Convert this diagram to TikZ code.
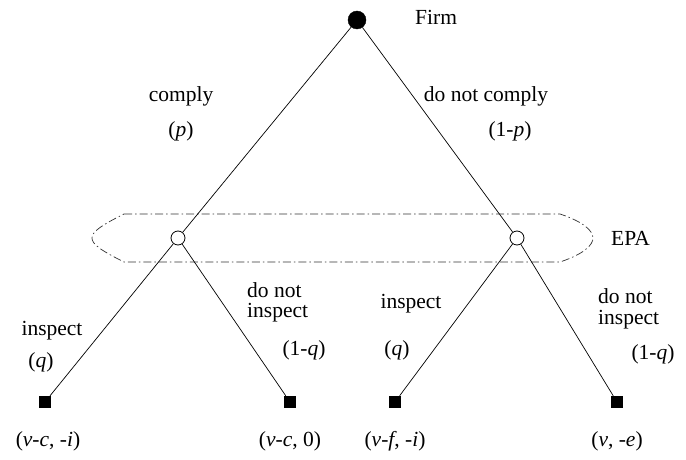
\documentclass[tikz,border=0pt]{standalone}
\usepackage{fontspec}
\setmainfont{Liberation Serif}
\begin{document}
\begin{tikzpicture}[x=1pt,y=-1pt,
  decision/.style={circle,fill=black,draw=black,minimum size=18pt,inner sep=0pt},
  chance/.style={circle,draw=black,fill=white,minimum size=14pt,inner sep=0pt,line width=0.8pt},
  leaf/.style={rectangle,fill=black,minimum size=12pt,inner sep=0pt},
  lbl/.style={font=\fontsize{21.5}{24}\selectfont,inner sep=0pt},
  edge/.style={draw=black,line width=0.7pt},
  infoset/.style={draw=black!80,line width=0.7pt,dash pattern=on 8pt off 3pt on 1.5pt off 3pt}]
\useasboundingbox (0,0) rectangle (686,460);
% information set
\draw[infoset] (124,214) -- (560,214) .. controls (584,222) and (593,231) .. (593,238)
  .. controls (593,245) and (584,254) .. (560,262) -- (124,262)
  .. controls (100,250) and (92,244) .. (92,238) .. controls (92,232) and (100,226) .. (124,214);
% nodes
\node[decision] (root) at (357,20) {};
\node[chance] (L) at (178,238) {};
\node[chance] (R) at (517,238) {};
\node[leaf] (t1) at (45,402) {};
\node[leaf] (t2) at (290,402) {};
\node[leaf] (t3) at (395,402) {};
\node[leaf] (t4) at (617,402) {};
% edges
\path[edge] (root) -- (L);
\path[edge] (root) -- (R);
\path[edge] (L) -- (t1);
\path[edge] (L) -- (t2);
\path[edge] (R) -- (t3);
\path[edge] (R) -- (t4);
% labels
\node[lbl,anchor=west] (firm) at (415,17) {Firm};
\node[lbl,anchor=west] (epa) at (611,238) {EPA};
\node[lbl] (c1) at (181,96) {comply};
\node[lbl] (c2) at (181,131) {(\textit{p})};
\node[lbl] (n1) at (486,96) {do not comply};
\node[lbl] (n2) at (510,131) {(1-\textit{p})};
\node[lbl] (i1) at (52,331) {inspect};
\node[lbl] (i2) at (41,362) {(\textit{q})};
\node[lbl,anchor=west] (d1) at (247,290) {do not};
\node[lbl,anchor=west] (d2) at (247,313) {inspect};
\node[lbl] (d3) at (304,350) {(1-\textit{q})};
\node[lbl] (i3) at (411,304) {inspect};
\node[lbl] (i4) at (397,350) {(\textit{q})};
\node[lbl,anchor=west] (e1) at (598,296) {do not};
\node[lbl,anchor=west] (e2) at (598,320) {inspect};
\node[lbl] (e3) at (653,354) {(1-\textit{q})};
\node[lbl] (p1) at (48,441) {(\textit{v}-\textit{c}, -\textit{i})};
\node[lbl] (p2) at (290,441) {(\textit{v}-\textit{c}, 0)};
\node[lbl] (p3) at (395,441) {(\textit{v}-\textit{f}, -\textit{i})};
\node[lbl] (p4) at (617,441) {(\textit{v}, -\textit{e})};
\end{tikzpicture}
\end{document}
